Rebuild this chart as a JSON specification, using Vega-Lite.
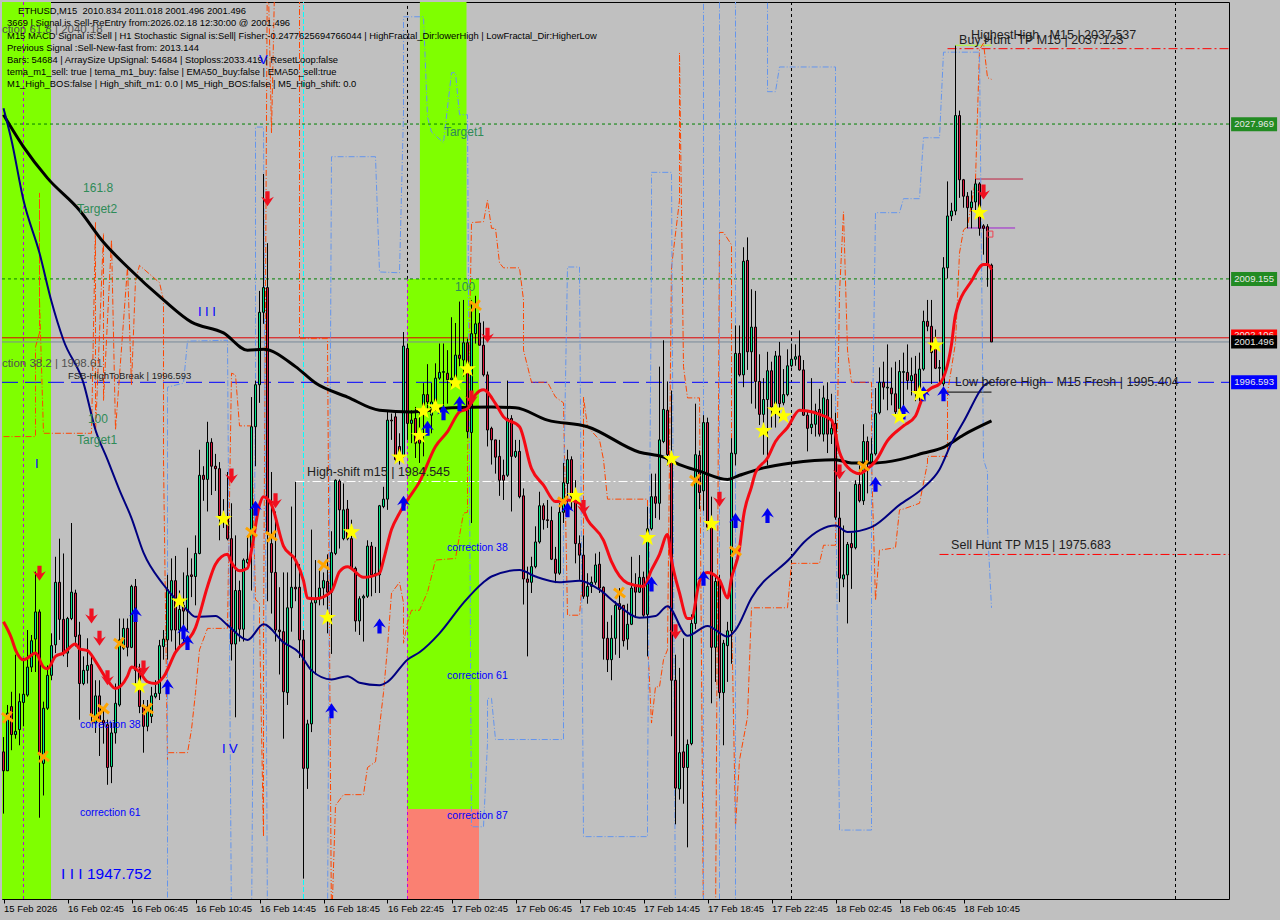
{"$schema":"https://vega.github.io/schema/vega-lite/v6.json","autosize":{"type":"none"},"padding":{"left":2,"top":2,"right":51,"bottom":21},"width":1227,"height":897,"background":"#C0C0C0","view":{"fill":"#C0C0C0","stroke":"#000000","strokeWidth":1},"config":{"text":{"font":"Liberation Sans"}},
"datasets":{
"candles":[
{"b":0,"o":1951.7,"h":1953.5,"l":1944.2,"c":1949.4},{"b":1,"o":1949.4,"h":1957.4,"l":1949.4,"c":1956.4},{"b":2,"o":1957.2,"h":1959.0,"l":1951.9,"c":1953.8},{"b":3,"o":1953.8,"h":1963.5,"l":1953.3,"c":1954.2},{"b":4,"o":1954.4,"h":1958.8,"l":1952.5,"c":1957.8},{"b":5,"o":1957.7,"h":1963.1,"l":1954.8,"c":1958.7},{"b":6,"o":1958.6,"h":1966.5,"l":1958.4,"c":1962.0},{"b":7,"o":1962.0,"h":1965.9,"l":1961.4,"c":1965.2},{"b":8,"o":1965.4,"h":1973.6,"l":1961.4,"c":1968.7},{"b":9,"o":1968.7,"h":1969.0,"l":1943.7,"c":1951.4},
{"b":10,"o":1950.3,"h":1957.8,"l":1946.4,"c":1957.0},{"b":11,"o":1957.0,"h":1962.2,"l":1956.8,"c":1961.0},{"b":12,"o":1961.0,"h":1966.1,"l":1960.4,"c":1964.6},{"b":13,"o":1964.7,"h":1975.4,"l":1963.7,"c":1972.3},{"b":14,"o":1972.3,"h":1977.6,"l":1965.3,"c":1967.8},{"b":15,"o":1967.8,"h":1975.8,"l":1963.3,"c":1963.7},{"b":16,"o":1963.7,"h":1968.1,"l":1962.0,"c":1967.9},{"b":17,"o":1967.9,"h":1979.5,"l":1967.7,"c":1971.1},{"b":18,"o":1971.0,"h":1971.4,"l":1964.5,"c":1965.7},{"b":19,"o":1965.9,"h":1967.5,"l":1955.6,"c":1960.0},
{"b":20,"o":1960.0,"h":1963.3,"l":1959.8,"c":1961.6},{"b":21,"o":1961.6,"h":1965.5,"l":1960.0,"c":1962.2},{"b":22,"o":1962.3,"h":1963.7,"l":1955.2,"c":1956.2},{"b":23,"o":1955.2,"h":1960.4,"l":1954.0,"c":1958.5},{"b":24,"o":1958.5,"h":1960.4,"l":1951.2,"c":1955.5},{"b":25,"o":1955.5,"h":1956.8,"l":1952.7,"c":1955.2},{"b":26,"o":1955.0,"h":1955.6,"l":1947.7,"c":1949.8},{"b":27,"o":1949.9,"h":1955.2,"l":1947.9,"c":1954.0},{"b":28,"o":1954.0,"h":1960.0,"l":1952.7,"c":1957.6},{"b":29,"o":1957.4,"h":1967.9,"l":1957.2,"c":1965.3},
{"b":30,"o":1964.3,"h":1967.9,"l":1964.1,"c":1966.7},{"b":31,"o":1966.7,"h":1967.9,"l":1963.3,"c":1964.4},{"b":32,"o":1964.4,"h":1972.0,"l":1964.3,"c":1971.8},{"b":33,"o":1971.8,"h":1972.7,"l":1960.0,"c":1961.6},{"b":34,"o":1961.6,"h":1962.4,"l":1956.4,"c":1957.2},{"b":35,"o":1957.2,"h":1958.0,"l":1951.6,"c":1954.8},{"b":36,"o":1954.8,"h":1958.0,"l":1954.2,"c":1957.2},{"b":37,"o":1956.0,"h":1959.6,"l":1955.2,"c":1958.5},{"b":38,"o":1958.4,"h":1960.4,"l":1958.2,"c":1958.8},{"b":39,"o":1958.8,"h":1965.3,"l":1958.0,"c":1964.6},
{"b":40,"o":1964.5,"h":1966.5,"l":1962.9,"c":1965.4},{"b":41,"o":1965.3,"h":1973.2,"l":1962.9,"c":1971.4},{"b":42,"o":1966.5,"h":1975.2,"l":1965.1,"c":1972.5},{"b":43,"o":1972.5,"h":1975.5,"l":1963.8,"c":1966.5},{"b":44,"o":1966.5,"h":1971.3,"l":1964.3,"c":1969.0},{"b":45,"o":1969.5,"h":1973.5,"l":1965.1,"c":1968.8},{"b":46,"o":1968.8,"h":1976.5,"l":1966.5,"c":1973.1},{"b":47,"o":1973.2,"h":1975.2,"l":1970.5,"c":1973.0},{"b":48,"o":1973.0,"h":1978.0,"l":1969.5,"c":1975.8},{"b":49,"o":1975.8,"h":1988.4,"l":1975.7,"c":1985.3},
{"b":50,"o":1985.3,"h":1986.4,"l":1982.2,"c":1984.8},{"b":51,"o":1984.8,"h":1991.8,"l":1980.9,"c":1989.3},{"b":52,"o":1989.3,"h":1989.8,"l":1982.9,"c":1986.4},{"b":53,"o":1986.4,"h":1987.9,"l":1983.4,"c":1986.1},{"b":54,"o":1986.1,"h":1986.9,"l":1977.4,"c":1980.4},{"b":55,"o":1980.4,"h":1982.4,"l":1978.9,"c":1980.2},{"b":56,"o":1980.2,"h":1985.7,"l":1977.4,"c":1977.6},{"b":57,"o":1977.6,"h":1981.9,"l":1962.8,"c":1964.8},{"b":58,"o":1964.8,"h":1978.0,"l":1955.9,"c":1971.3},{"b":59,"o":1971.3,"h":1972.5,"l":1965.1,"c":1966.6},
{"b":60,"o":1966.6,"h":1975.2,"l":1965.1,"c":1975.0},{"b":61,"o":1974.7,"h":1978.0,"l":1974.5,"c":1975.1},{"b":62,"o":1976.5,"h":1994.8,"l":1971.3,"c":1991.2},{"b":63,"o":1991.2,"h":1996.8,"l":1986.4,"c":1996.3},{"b":64,"o":1996.3,"h":2007.7,"l":1994.1,"c":2005.1},{"b":65,"o":2005.1,"h":2021.9,"l":2003.7,"c":2008.1},{"b":66,"o":2008.1,"h":2013.5,"l":1970.0,"c":1978.4},{"b":67,"o":1977.0,"h":1985.7,"l":1968.5,"c":1973.5},{"b":68,"o":1973.5,"h":1980.9,"l":1965.1,"c":1966.5},{"b":69,"o":1966.5,"h":1971.7,"l":1961.1,"c":1966.3},
{"b":70,"o":1966.3,"h":1973.5,"l":1953.3,"c":1959.0},{"b":71,"o":1958.9,"h":1973.5,"l":1957.4,"c":1969.2},{"b":72,"o":1969.2,"h":1981.5,"l":1966.3,"c":1971.7},{"b":73,"o":1971.7,"h":1984.5,"l":1970.0,"c":1971.5},{"b":74,"o":1971.7,"h":1974.5,"l":1963.1,"c":1965.3},{"b":75,"o":1965.3,"h":1966.5,"l":1936.3,"c":1949.7},{"b":76,"o":1949.7,"h":1955.6,"l":1947.2,"c":1955.1},{"b":77,"o":1955.1,"h":1978.7,"l":1954.1,"c":1969.8},{"b":78,"o":1969.8,"h":1975.0,"l":1961.1,"c":1970.3},{"b":79,"o":1970.3,"h":1974.0,"l":1969.5,"c":1971.6},
{"b":80,"o":1971.6,"h":1973.5,"l":1969.5,"c":1972.5},{"b":81,"o":1972.4,"h":1975.7,"l":1966.1,"c":1971.1},{"b":82,"o":1971.1,"h":1978.5,"l":1963.6,"c":1975.9},{"b":83,"o":1975.8,"h":1984.8,"l":1975.6,"c":1984.7},{"b":84,"o":1984.6,"h":1984.8,"l":1976.4,"c":1981.1},{"b":85,"o":1977.6,"h":1984.3,"l":1977.4,"c":1981.1},{"b":86,"o":1981.2,"h":1982.3,"l":1977.4,"c":1977.6},{"b":87,"o":1977.6,"h":1979.9,"l":1973.8,"c":1974.0},{"b":88,"o":1974.0,"h":1974.2,"l":1966.3,"c":1967.6},{"b":89,"o":1967.6,"h":1970.6,"l":1965.9,"c":1970.3},
{"b":90,"o":1970.4,"h":1970.8,"l":1965.1,"c":1970.6},{"b":91,"o":1970.6,"h":1977.4,"l":1970.4,"c":1976.7},{"b":92,"o":1976.7,"h":1977.2,"l":1970.6,"c":1973.2},{"b":93,"o":1973.4,"h":1976.6,"l":1971.0,"c":1973.1},{"b":94,"o":1973.2,"h":1981.7,"l":1971.0,"c":1981.6},{"b":95,"o":1981.5,"h":1983.9,"l":1981.3,"c":1982.4},{"b":96,"o":1982.4,"h":1993.0,"l":1981.1,"c":1992.0},{"b":97,"o":1992.0,"h":1992.8,"l":1989.6,"c":1991.9},{"b":98,"o":1992.4,"h":1993.0,"l":1986.8,"c":1987.2},{"b":99,"o":1988.8,"h":1990.4,"l":1986.6,"c":1987.6},
{"b":100,"o":1987.6,"h":2002.7,"l":1987.4,"c":2001.0},{"b":101,"o":2000.7,"h":2001.3,"l":1989.6,"c":1991.6},{"b":102,"o":1991.6,"h":1993.2,"l":1989.2,"c":1992.0},{"b":103,"o":1992.2,"h":1993.6,"l":1987.4,"c":1989.2},{"b":104,"o":1990.0,"h":1993.2,"l":1986.8,"c":1989.2},{"b":105,"o":1993.2,"h":1996.5,"l":1987.6,"c":1995.1},{"b":106,"o":1995.1,"h":1998.8,"l":1993.2,"c":1994.2},{"b":107,"o":1992.6,"h":1996.5,"l":1990.4,"c":1994.2},{"b":108,"o":1993.2,"h":1998.9,"l":1993.2,"c":1997.1},{"b":109,"o":1997.1,"h":2001.3,"l":1996.9,"c":1997.8},
{"b":110,"o":1997.8,"h":2001.3,"l":1993.6,"c":1997.9},{"b":111,"o":1997.7,"h":2000.5,"l":1994.0,"c":1996.9},{"b":112,"o":1996.9,"h":2004.5,"l":1996.1,"c":1997.1},{"b":113,"o":1996.9,"h":2003.8,"l":1996.1,"c":1999.9},{"b":114,"o":1999.9,"h":2006.4,"l":1998.5,"c":1999.5},{"b":115,"o":1999.3,"h":2006.6,"l":1997.3,"c":2001.4},{"b":116,"o":2001.4,"h":2001.9,"l":1989.8,"c":1990.6},{"b":117,"o":1990.5,"h":2006.6,"l":1979.5,"c":2002.5},{"b":118,"o":2002.5,"h":2007.1,"l":2001.3,"c":2003.7},{"b":119,"o":2003.8,"h":2005.0,"l":2001.1,"c":2001.1},
{"b":120,"o":2001.1,"h":2004.0,"l":1997.3,"c":1997.5},{"b":121,"o":1997.5,"h":1997.9,"l":1988.8,"c":1990.8},{"b":122,"o":1991.0,"h":1991.2,"l":1986.6,"c":1989.6},{"b":123,"o":1989.6,"h":1989.6,"l":1985.5,"c":1987.5},{"b":124,"o":1987.6,"h":1989.6,"l":1982.8,"c":1984.7},{"b":125,"o":1985.3,"h":1987.2,"l":1982.3,"c":1984.7},{"b":126,"o":1985.3,"h":1996.8,"l":1985.1,"c":1992.2},{"b":127,"o":1992.2,"h":1992.6,"l":1980.9,"c":1987.6},{"b":128,"o":1987.6,"h":1989.6,"l":1987.4,"c":1988.2},{"b":129,"o":1988.2,"h":1989.6,"l":1982.5,"c":1982.7},
{"b":130,"o":1982.8,"h":1983.7,"l":1969.6,"c":1972.7},{"b":131,"o":1972.7,"h":1974.2,"l":1963.3,"c":1972.3},{"b":132,"o":1972.3,"h":1975.4,"l":1971.0,"c":1974.2},{"b":133,"o":1974.2,"h":1979.1,"l":1974.0,"c":1977.2},{"b":134,"o":1977.2,"h":1983.3,"l":1977.0,"c":1981.6},{"b":135,"o":1981.6,"h":1981.9,"l":1978.7,"c":1979.9},{"b":136,"o":1979.9,"h":1982.3,"l":1978.9,"c":1979.8},{"b":137,"o":1979.8,"h":1981.5,"l":1975.0,"c":1975.1},{"b":138,"o":1975.1,"h":1976.6,"l":1972.2,"c":1973.4},{"b":139,"o":1973.4,"h":1981.9,"l":1973.2,"c":1980.8},
{"b":140,"o":1980.8,"h":1986.8,"l":1979.5,"c":1984.4},{"b":141,"o":1984.3,"h":1988.4,"l":1980.7,"c":1987.2},{"b":142,"o":1987.2,"h":1987.6,"l":1981.1,"c":1982.7},{"b":143,"o":1982.7,"h":1984.7,"l":1974.6,"c":1977.0},{"b":144,"o":1977.0,"h":1978.0,"l":1972.6,"c":1975.6},{"b":145,"o":1975.6,"h":1978.0,"l":1970.3,"c":1970.6},{"b":146,"o":1970.6,"h":1973.4,"l":1969.7,"c":1971.8},{"b":147,"o":1971.8,"h":1973.0,"l":1971.0,"c":1972.3},{"b":148,"o":1972.3,"h":1975.8,"l":1972.0,"c":1974.4},{"b":149,"o":1974.5,"h":1976.0,"l":1971.0,"c":1971.6},
{"b":150,"o":1971.7,"h":1971.8,"l":1962.9,"c":1965.5},{"b":151,"o":1965.5,"h":1967.5,"l":1961.4,"c":1962.9},{"b":152,"o":1962.9,"h":1968.3,"l":1960.4,"c":1965.5},{"b":153,"o":1965.5,"h":1970.0,"l":1963.5,"c":1969.5},{"b":154,"o":1969.7,"h":1971.6,"l":1963.1,"c":1969.0},{"b":155,"o":1969.5,"h":1969.5,"l":1964.5,"c":1965.2},{"b":156,"o":1965.4,"h":1969.7,"l":1964.1,"c":1967.2},{"b":157,"o":1967.2,"h":1975.4,"l":1967.1,"c":1971.6},{"b":158,"o":1971.8,"h":1973.4,"l":1968.1,"c":1971.1},{"b":159,"o":1971.1,"h":1975.6,"l":1971.0,"c":1972.9},
{"b":160,"o":1972.9,"h":1973.6,"l":1968.1,"c":1968.3},{"b":161,"o":1968.4,"h":1981.5,"l":1963.3,"c":1978.8},{"b":162,"o":1978.8,"h":1985.5,"l":1978.6,"c":1982.7},{"b":163,"o":1982.7,"h":1985.5,"l":1980.1,"c":1981.9},{"b":164,"o":1981.9,"h":1998.5,"l":1979.9,"c":1989.6},{"b":165,"o":1989.4,"h":2001.7,"l":1989.2,"c":1993.3},{"b":166,"o":1993.2,"h":1996.7,"l":1986.5,"c":1987.8},{"b":167,"o":1987.4,"h":1995.6,"l":1953.6,"c":1960.4},{"b":168,"o":1960.4,"h":1963.5,"l":1942.9,"c":1947.3},{"b":169,"o":1947.2,"h":1961.9,"l":1945.9,"c":1951.6},
{"b":170,"o":1951.7,"h":1965.5,"l":1945.4,"c":1949.8},{"b":171,"o":1949.8,"h":1953.2,"l":1940.1,"c":1952.6},{"b":172,"o":1952.7,"h":1968.4,"l":1952.5,"c":1967.3},{"b":173,"o":1967.3,"h":1994.0,"l":1966.6,"c":1987.8},{"b":174,"o":1987.7,"h":1988.3,"l":1981.2,"c":1983.2},{"b":175,"o":1983.4,"h":1992.6,"l":1981.0,"c":1991.7},{"b":176,"o":1991.7,"h":1992.3,"l":1978.6,"c":1979.0},{"b":177,"o":1979.0,"h":1982.7,"l":1957.6,"c":1964.4},{"b":178,"o":1964.4,"h":1973.0,"l":1960.2,"c":1972.4},{"b":179,"o":1972.5,"h":1973.2,"l":1958.2,"c":1958.9},
{"b":180,"o":1958.9,"h":1965.3,"l":1952.5,"c":1964.9},{"b":181,"o":1964.6,"h":1967.5,"l":1960.2,"c":1966.4},{"b":182,"o":1966.4,"h":1989.8,"l":1962.4,"c":1988.0},{"b":183,"o":1987.9,"h":2003.5,"l":1986.5,"c":2000.1},{"b":184,"o":2000.1,"h":2003.5,"l":1997.3,"c":1997.5},{"b":185,"o":1997.5,"h":2013.0,"l":1996.0,"c":2011.3},{"b":186,"o":2011.4,"h":2014.2,"l":1998.1,"c":2000.3},{"b":187,"o":2000.3,"h":2007.9,"l":1994.0,"c":2003.3},{"b":188,"o":2003.3,"h":2007.7,"l":1993.4,"c":1996.7},{"b":189,"o":1996.7,"h":2000.0,"l":1991.4,"c":1992.7},
{"b":190,"o":1992.7,"h":1997.1,"l":1987.8,"c":1994.5},{"b":191,"o":1994.5,"h":2000.3,"l":1986.5,"c":1998.0},{"b":192,"o":1998.0,"h":1999.1,"l":1991.1,"c":1993.6},{"b":193,"o":1994.0,"h":2000.4,"l":1991.1,"c":1999.8},{"b":194,"o":1999.8,"h":2001.5,"l":1992.2,"c":1994.0},{"b":195,"o":1994.1,"h":1998.2,"l":1993.8,"c":1995.1},{"b":196,"o":1995.1,"h":2000.6,"l":1994.9,"c":1998.6},{"b":197,"o":1998.6,"h":2001.3,"l":1998.4,"c":1999.4},{"b":198,"o":1999.4,"h":2001.2,"l":1998.6,"c":1999.7},{"b":199,"o":1999.8,"h":2002.9,"l":1998.0,"c":1998.1},
{"b":200,"o":1998.1,"h":1999.3,"l":1992.5,"c":1992.6},{"b":201,"o":1992.6,"h":1993.1,"l":1988.2,"c":1991.0},{"b":202,"o":1991.1,"h":1997.1,"l":1990.3,"c":1991.5},{"b":203,"o":1991.5,"h":1994.0,"l":1990.0,"c":1993.1},{"b":204,"o":1993.3,"h":1995.8,"l":1990.0,"c":1990.3},{"b":205,"o":1990.3,"h":1996.2,"l":1989.4,"c":1994.7},{"b":206,"o":1994.5,"h":1996.6,"l":1988.0,"c":1990.3},{"b":207,"o":1990.3,"h":1995.2,"l":1989.1,"c":1991.0},{"b":208,"o":1991.6,"h":1992.9,"l":1979.9,"c":1980.2},{"b":209,"o":1980.1,"h":1983.3,"l":1969.9,"c":1972.8},
{"b":210,"o":1972.7,"h":1979.2,"l":1971.7,"c":1973.2},{"b":211,"o":1973.2,"h":1977.2,"l":1967.3,"c":1976.9},{"b":212,"o":1977.0,"h":1978.3,"l":1971.5,"c":1976.5},{"b":213,"o":1976.5,"h":1984.7,"l":1976.3,"c":1984.2},{"b":214,"o":1984.2,"h":1986.5,"l":1982.0,"c":1982.2},{"b":215,"o":1982.2,"h":1991.5,"l":1981.7,"c":1989.4},{"b":216,"o":1989.4,"h":1990.0,"l":1983.1,"c":1986.8},{"b":217,"o":1986.8,"h":1989.8,"l":1986.5,"c":1987.9},{"b":218,"o":1987.9,"h":1995.9,"l":1987.7,"c":1992.8},{"b":219,"o":1992.9,"h":1998.4,"l":1992.7,"c":1996.6},
{"b":220,"o":1996.6,"h":1999.1,"l":1994.5,"c":1996.0},{"b":221,"o":1995.9,"h":2001.2,"l":1993.2,"c":1996.0},{"b":222,"o":1995.9,"h":1998.4,"l":1993.8,"c":1995.2},{"b":223,"o":1995.2,"h":1999.1,"l":1992.5,"c":1993.0},{"b":224,"o":1993.4,"h":1999.3,"l":1992.9,"c":1997.9},{"b":225,"o":1997.8,"h":2000.2,"l":1993.2,"c":1997.9},{"b":226,"o":1997.8,"h":2001.2,"l":1995.7,"c":1996.8},{"b":227,"o":1996.8,"h":1999.6,"l":1995.0,"c":1997.4},{"b":228,"o":1997.6,"h":1999.8,"l":1994.3,"c":1995.5},{"b":229,"o":1995.5,"h":2000.2,"l":1994.3,"c":1998.2},
{"b":230,"o":1998.2,"h":2005.3,"l":1998.0,"c":2004.0},{"b":231,"o":2004.0,"h":2006.6,"l":2002.8,"c":2003.4},{"b":232,"o":2003.4,"h":2006.6,"l":1996.4,"c":2000.2},{"b":233,"o":2000.7,"h":2003.0,"l":1998.2,"c":1998.3},{"b":234,"o":1998.3,"h":1999.3,"l":1996.4,"c":1998.4},{"b":235,"o":1996.4,"h":2011.8,"l":1996.1,"c":2010.5},{"b":236,"o":2010.5,"h":2021.0,"l":2009.2,"c":2016.8},{"b":237,"o":2016.8,"h":2018.4,"l":2016.2,"c":2017.4},{"b":238,"o":2017.4,"h":2037.5,"l":2016.9,"c":2029.0},{"b":239,"o":2029.0,"h":2029.6,"l":2019.0,"c":2021.2},
{"b":240,"o":2021.2,"h":2021.3,"l":2017.8,"c":2019.2},{"b":241,"o":2019.2,"h":2019.7,"l":2015.3,"c":2017.8},{"b":242,"o":2017.8,"h":2019.9,"l":2015.3,"c":2018.5},{"b":243,"o":2018.5,"h":2021.3,"l":2017.4,"c":2020.7},{"b":244,"o":2020.7,"h":2020.9,"l":2014.4,"c":2015.3},{"b":245,"o":2015.6,"h":2015.8,"l":2012.1,"c":2015.3},{"b":246,"o":2015.5,"h":2015.8,"l":2008.2,"c":2010.8},{"b":247,"o":2010.834,"h":2011.018,"l":2001.496,"c":2001.496}],
"red":[{"b":0,"p":1967.5},{"b":2,"p":1965.5},{"b":3,"p":1964.1},{"b":5,"p":1962.9},{"b":6,"p":1963.1},{"b":8,"p":1963.7},{"b":10,"p":1962.0},{"b":11,"p":1961.8},{"b":13,"p":1963.3},{"b":15,"p":1963.7},{"b":18,"p":1964.8},{"b":19,"p":1964.2},{"b":21,"p":1964.0},{"b":23,"p":1962.7},{"b":26,"p":1960.4},{"b":28,"p":1959.4},{"b":31,"p":1960.9},{"b":32,"p":1962.0},{"b":34,"p":1961.4},{"b":36,"p":1960.2},{"b":38,"p":1960.0},{"b":40,"p":1960.8},{"b":43,"p":1963.8},{"b":48,"p":1966.8},{"b":51,"p":1971.8},{"b":53,"p":1974.5},{"b":56,"p":1975.7},{"b":57,"p":1974.7},{"b":59,"p":1973.7},{"b":61,"p":1974.0},{"b":62,"p":1976.2},{"b":64,"p":1981.7},{"b":65,"p":1982.7},{"b":67,"p":1981.7},{"b":70,"p":1976.7},{"b":73,"p":1975.0},{"b":75,"p":1972.5},{"b":76,"p":1970.4},{"b":78,"p":1970.3},{"b":82,"p":1971.2},{"b":84,"p":1973.6},{"b":86,"p":1974.2},{"b":90,"p":1972.9},{"b":94,"p":1973.4},{"b":95,"p":1975.0},{"b":97,"p":1978.7},{"b":99,"p":1980.7},{"b":101,"p":1982.3},{"b":104,"p":1984.5},{"b":108,"p":1988.8},{"b":111,"p":1990.6},{"b":114,"p":1993.0},{"b":116,"p":1993.4},{"b":118,"p":1995.1},{"b":120,"p":1995.7},{"b":123,"p":1994.0},{"b":125,"p":1992.4},{"b":129,"p":1991.2},{"b":132,"p":1986.1},{"b":135,"p":1984.1},{"b":138,"p":1982.1},{"b":141,"p":1982.3},{"b":144,"p":1981.9},{"b":146,"p":1979.9},{"b":150,"p":1977.4},{"b":152,"p":1974.8},{"b":156,"p":1972.2},{"b":160,"p":1971.8},{"b":162,"p":1973.8},{"b":164,"p":1975.7},{"b":166,"p":1978.1},{"b":167,"p":1975.0},{"b":169,"p":1971.0},{"b":171,"p":1967.9},{"b":172,"p":1967.9},{"b":174,"p":1972.4},{"b":176,"p":1973.5},{"b":179,"p":1972.6},{"b":181,"p":1970.4},{"b":182,"p":1972.8},{"b":184,"p":1976.4},{"b":185,"p":1980.3},{"b":187,"p":1983.9},{"b":188,"p":1985.6},{"b":191,"p":1987.4},{"b":193,"p":1989.4},{"b":196,"p":1991.1},{"b":199,"p":1993.2},{"b":201,"p":1993.1},{"b":204,"p":1992.7},{"b":207,"p":1992.0},{"b":209,"p":1988.1},{"b":211,"p":1986.3},{"b":214,"p":1985.5},{"b":216,"p":1986.1},{"b":218,"p":1987.0},{"b":221,"p":1989.5},{"b":225,"p":1991.3},{"b":228,"p":1992.5},{"b":230,"p":1995.0},{"b":232,"p":1995.9},{"b":234,"p":1996.4},{"b":237,"p":2001.2},{"b":238,"p":2004.8},{"b":242,"p":2008.9},{"b":245,"p":2010.9},{"b":246,"p":2010.9},{"b":247,"p":2010.3}],
"navy":[{"b":0,"p":2029.9},{"b":2,"p":2026.0},{"b":5,"p":2018.7},{"b":9,"p":2012.3},{"b":12,"p":2006.4},{"b":15,"p":2001.7},{"b":20,"p":1996.5},{"b":23,"p":1990.8},{"b":26,"p":1987.2},{"b":29,"p":1983.5},{"b":32,"p":1980.1},{"b":35,"p":1975.9},{"b":40,"p":1972.0},{"b":46,"p":1968.9},{"b":48,"p":1968.1},{"b":53,"p":1968.2},{"b":56,"p":1967.1},{"b":61,"p":1965.3},{"b":65,"p":1967.2},{"b":70,"p":1965.0},{"b":74,"p":1963.7},{"b":77,"p":1961.6},{"b":82,"p":1960.5},{"b":86,"p":1960.9},{"b":89,"p":1960.1},{"b":94,"p":1959.8},{"b":96,"p":1960.2},{"b":101,"p":1962.9},{"b":104,"p":1963.8},{"b":109,"p":1966.1},{"b":115,"p":1969.8},{"b":120,"p":1972.3},{"b":122,"p":1973.0},{"b":129,"p":1973.8},{"b":133,"p":1973.0},{"b":139,"p":1972.3},{"b":144,"p":1972.5},{"b":149,"p":1971.4},{"b":153,"p":1969.8},{"b":159,"p":1968.0},{"b":163,"p":1968.2},{"b":166,"p":1969.4},{"b":171,"p":1965.8},{"b":176,"p":1967.0},{"b":181,"p":1965.7},{"b":183,"p":1966.5},{"b":187,"p":1970.4},{"b":197,"p":1975.4},{"b":200,"p":1977.1},{"b":208,"p":1979.2},{"b":211,"p":1978.4},{"b":217,"p":1979.0},{"b":224,"p":1981.7},{"b":230,"p":1983.8},{"b":234,"p":1986.0},{"b":237,"p":1989.2},{"b":240,"p":1991.8},{"b":246,"p":1996.5},{"b":247,"p":1996.6}],
"black":[{"b":0,"p":2029.1},{"b":5,"p":2025.2},{"b":11,"p":2021.4},{"b":19,"p":2017.5},{"b":25,"p":2013.6},{"b":31,"p":2010.6},{"b":40,"p":2006.6},{"b":47,"p":2003.9},{"b":55,"p":2002.6},{"b":61,"p":2000.5},{"b":65,"p":2000.6},{"b":73,"p":1998.5},{"b":78,"p":1996.5},{"b":86,"p":1994.8},{"b":94,"p":1993.2},{"b":102,"p":1993.0},{"b":112,"p":1993.5},{"b":122,"p":1993.6},{"b":128,"p":1993.5},{"b":136,"p":1992.0},{"b":146,"p":1991.2},{"b":159,"p":1988.1},{"b":165,"p":1987.5},{"b":169,"p":1986.6},{"b":174,"p":1985.8},{"b":181,"p":1984.8},{"b":184,"p":1985.3},{"b":190,"p":1986.2},{"b":197,"p":1986.8},{"b":208,"p":1987.2},{"b":212,"p":1986.8},{"b":218,"p":1986.8},{"b":224,"p":1987.2},{"b":230,"p":1988.0},{"b":235,"p":1988.7},{"b":240,"p":1990.2},{"b":247,"p":1991.9}],
"blueDash":[{"b":41,"p":1930},{"b":41,"p":1996.0},{"b":45,"p":1996.5},{"b":46,"p":2001.6},{"b":56,"p":2001.7},{"b":57,"p":1930},{"b":62,"p":1930},{"b":63,"p":1996.5},{"b":63,"p":2027.6},{"b":65,"p":2027.6},{"b":66,"p":1930},{"b":81,"p":1930},{"b":82,"p":2024.0},{"b":93,"p":2024.0},{"b":94,"p":2010.0},{"b":99,"p":2009.9},{"b":100,"p":2029.3},{"b":100,"p":2041.0},{"b":105,"p":2041.0},{"b":106,"p":2028.8},{"b":107,"p":2027.0},{"b":110,"p":2025.7},{"b":112,"p":2034.2},{"b":113,"p":2034.2},{"b":114,"p":2029.1},{"b":116,"p":2029.1},{"b":117,"p":1942.6},{"b":120,"p":1942.6},{"b":121,"p":1952.8},{"b":121,"p":1958.2},{"b":122,"p":1958.2},{"b":123,"p":1953.2},{"b":140,"p":1953.2},{"b":140,"p":1983.1},{"b":141,"p":2010.6},{"b":144,"p":2010.6},{"b":145,"p":1941.4},{"b":161,"p":1941.4},{"b":161,"p":1946.7},{"b":162,"p":2011.8},{"b":162,"p":2022.1},{"b":167,"p":2022.1},{"b":168,"p":1930},{"b":175,"p":1930},{"b":175,"p":2050},{"b":179,"p":2050},{"b":179,"p":1930},{"b":183,"p":1930},{"b":183,"p":2050},{"b":191,"p":2050},{"b":191,"p":2031.9},{"b":193,"p":2031.9},{"b":194,"p":2034.9},{"b":208,"p":2034.9},{"b":208,"p":1987.2},{"b":209,"p":1942.2},{"b":217,"p":1942.2},{"b":217,"p":1983.1},{"b":218,"p":2017.2},{"b":224,"p":2017.2},{"b":225,"p":2018.9},{"b":229,"p":2018.9},{"b":230,"p":2026.3},{"b":234,"p":2026.3},{"b":235,"p":2036.7},{"b":244,"p":2036.7},{"b":245,"p":1987.2},{"b":246,"p":1985.7},{"b":246,"p":1979.0},{"b":247,"p":1969.2}],
"orangeDash":[{"b":0,"p":1990.0},{"b":8,"p":1990.0},{"b":8,"p":2000.9},{"b":9,"p":2002.6},{"b":9,"p":2019.6},{"b":9,"p":2006.6},{"b":10,"p":1990.4},{"b":22,"p":1990.4},{"b":23,"p":2016.0},{"b":23,"p":1990.4},{"b":25,"p":2014.7},{"b":25,"p":1994.4},{"b":27,"p":2013.9},{"b":28,"p":1990.8},{"b":31,"p":2010.6},{"b":32,"p":1996.3},{"b":33,"p":2009.0},{"b":34,"p":2010.8},{"b":39,"p":2008.7},{"b":40,"p":2006.6},{"b":40,"p":1987.2},{"b":41,"p":1950.7},{"b":41,"p":1951.6},{"b":46,"p":1951.6},{"b":47,"p":1954.4},{"b":48,"p":1958.9},{"b":49,"p":1964.1},{"b":51,"p":1966.7},{"b":56,"p":1966.7},{"b":57,"p":1997.7},{"b":58,"p":1997.5},{"b":59,"p":1991.3},{"b":62,"p":1991.3},{"b":63,"p":1970.2},{"b":64,"p":1969.8},{"b":64,"p":1967.7},{"b":65,"p":1941.4},{"b":65,"p":1965.3},{"b":66,"p":2050},{"b":67,"p":2026.9},{"b":68,"p":2050},{"b":74,"p":2050},{"b":74,"p":2001.9},{"b":75,"p":2001.9},{"b":81,"p":2001.9},{"b":82,"p":1930},{"b":83,"p":1945.2},{"b":85,"p":1946.5},{"b":90,"p":1946.5},{"b":91,"p":1949.8},{"b":93,"p":1950.5},{"b":94,"p":1954.7},{"b":95,"p":1958.9},{"b":96,"p":1964.4},{"b":97,"p":1971.0},{"b":99,"p":1972.3},{"b":100,"p":1969.8},{"b":100,"p":1964.9},{"b":101,"p":1967.4},{"b":102,"p":1968.9},{"b":104,"p":1968.9},{"b":106,"p":1971.1},{"b":108,"p":1975.0},{"b":113,"p":1975.2},{"b":115,"p":1980.7},{"b":116,"p":1980.8},{"b":116,"p":1987.2},{"b":117,"p":2016.0},{"b":120,"p":2016.1},{"b":121,"p":2018.7},{"b":122,"p":2015.3},{"b":123,"p":2015.3},{"b":124,"p":2011.1},{"b":125,"p":2010.5},{"b":129,"p":2010.5},{"b":130,"p":2006.6},{"b":130,"p":2000.5},{"b":132,"p":1996.6},{"b":136,"p":1996.6},{"b":138,"p":1994.8},{"b":140,"p":1994.1},{"b":141,"p":1968.3},{"b":144,"p":1968.3},{"b":145,"p":1974.2},{"b":145,"p":1994.8},{"b":146,"p":1991.2},{"b":149,"p":1989.6},{"b":150,"p":1987.2},{"b":151,"p":1982.4},{"b":161,"p":1982.4},{"b":161,"p":1965.3},{"b":162,"p":1955.2},{"b":163,"p":1959.6},{"b":164,"p":1959.6},{"b":165,"p":1962.9},{"b":166,"p":1964.1},{"b":167,"p":2010.6},{"b":169,"p":2018.7},{"b":169,"p":2036.6},{"b":170,"p":1998.5},{"b":171,"p":1994.7},{"b":174,"p":1994.7},{"b":175,"p":1930},{"b":178,"p":1930},{"b":179,"p":2014.8},{"b":180,"p":2014.8},{"b":182,"p":2013.3},{"b":182,"p":1994.4},{"b":182,"p":1969.3},{"b":183,"p":1942.6},{"b":184,"p":1950.7},{"b":186,"p":1955.9},{"b":187,"p":1969.2},{"b":196,"p":1969.2},{"b":197,"p":1974.6},{"b":204,"p":1974.6},{"b":205,"p":1976.8},{"b":208,"p":1976.8},{"b":209,"p":2007.4},{"b":210,"p":2017.3},{"b":211,"p":2000.5},{"b":212,"p":1996.6},{"b":217,"p":1996.6},{"b":217,"p":1987.2},{"b":218,"p":1970.1},{"b":219,"p":1976.2},{"b":223,"p":1976.5},{"b":224,"p":1981.1},{"b":225,"p":1981.2},{"b":229,"p":1981.9},{"b":231,"p":1986.8},{"b":231,"p":1987.6},{"b":236,"p":1987.6},{"b":236,"p":1995.3},{"b":238,"p":2001.4},{"b":239,"p":2012.3},{"b":240,"p":2015.1},{"b":241,"p":2015.5},{"b":243,"p":2021.2},{"b":244,"p":2037.0},{"b":245,"p":2037.8},{"b":246,"p":2033.6},{"b":247,"p":2033.4}],
"stars":[{"b":34,"p":1959.7},{"b":44,"p":1970.0},{"b":55,"p":1980.0},{"b":81,"p":1968.0},{"b":87,"p":1978.4},{"b":99,"p":1987.5},{"b":104,"p":1990.1},{"b":105,"p":1993.1},{"b":108,"p":1993.6},{"b":113,"p":1996.5},{"b":116,"p":1998.2},{"b":143,"p":1982.8},{"b":161,"p":1977.7},{"b":167,"p":1987.3},{"b":177,"p":1979.4},{"b":190,"p":1990.7},{"b":193,"p":1993.2},{"b":195,"p":1992.5},{"b":224,"p":1992.4},{"b":229,"p":1995.2},{"b":233,"p":2001.1},{"b":244,"p":2017.2}],
"crosses":[{"b":1,"p":1955.9},{"b":10,"p":1951.1},{"b":23,"p":1955.8},{"b":25,"p":1956.9},{"b":29,"p":1964.9},{"b":36,"p":1956.9},{"b":62,"p":1978.4},{"b":67,"p":1977.9},{"b":80,"p":1974.4},{"b":118,"p":2005.9},{"b":140,"p":1982.1},{"b":154,"p":1971.0},{"b":173,"p":1984.7},{"b":183,"p":1976.1},{"b":215,"p":1986.4}],
"downs":[{"b":9,"p":1973.4},{"b":22,"p":1968.2},{"b":24,"p":1965.5},{"b":26,"p":1960.7},{"b":35,"p":1961.9},{"b":57,"p":1985.2},{"b":66,"p":2018.9},{"b":68,"p":1982.2},{"b":117,"p":1994.7},{"b":121,"p":2002.3},{"b":145,"p":1981.4},{"b":168,"p":1966.3},{"b":179,"p":1982.4},{"b":209,"p":1985.7},{"b":245,"p":2019.7}],
"ups":[{"b":33,"p":1968.4},{"b":41,"p":1959.6},{"b":45,"p":1966.3},{"b":46,"p":1965.0},{"b":63,"p":1981.3},{"b":82,"p":1956.7},{"b":94,"p":1967.0},{"b":100,"p":1981.9},{"b":106,"p":1991.0},{"b":110,"p":1992.9},{"b":114,"p":1994.0},{"b":141,"p":1981.1},{"b":162,"p":1972.1},{"b":175,"p":1972.8},{"b":183,"p":1979.8},{"b":191,"p":1980.4},{"b":218,"p":1984.2},{"b":225,"p":1993.0},{"b":230,"p":1995.2},{"b":235,"p":1995.2}]
},
"encoding":{"x":{"field":"b","type":"quantitative","title":null,"scale":{"domain":[-0.375,306.375],"nice":false,"zero":false,"padding":0},"axis":{"values":[0,16,32,48,64,80,96,112,128,144,160,176,192,208,224,240],"labelExpr":"['15 Feb 2026','16 Feb 02:45','16 Feb 06:45','16 Feb 10:45','16 Feb 14:45','16 Feb 18:45','16 Feb 22:45','17 Feb 02:45','17 Feb 06:45','17 Feb 10:45','17 Feb 14:45','17 Feb 18:45','17 Feb 22:45','18 Feb 02:45','18 Feb 06:45','18 Feb 10:45'][datum.value/16]","labelAlign":"left","labelBaseline":"middle","labelPadding":5,"labelFont":"Liberation Sans","labelFontSize":9.5,"labelColor":"#000000","tickColor":"#000000","tickSize":4,"domain":false,"grid":false,"labelOverlap":false,"labelFlush":false,"title":null}},
"y":{"field":"p","type":"quantitative","title":null,"scale":{"domain":[1933.826,2042.794],"nice":false,"zero":false},"axis":{"orient":"right","values":[2042.43,2038.35,2034.39,2030.43,2026.35,2022.39,2018.31,2014.35,2010.39,2006.31,2002.35,1998.27,1994.31,1990.23,1986.27,1982.31,1978.23,1974.27,1970.19,1966.23,1962.15,1958.19,1954.23,1950.15,1946.19,1942.11,1938.15,1934.19],"format":".3f","labelFont":"Liberation Sans","labelFontSize":9.5,"labelColor":"#000000","labelPadding":3,"tickColor":"#000000","tickSize":3,"domain":false,"grid":false,"labelOverlap":false,"labelFlush":false,"title":null}}},
"layer":[
{"data":{"values":[{"b":-0.375,"b2":11.875,"p":1933.826,"p2":2042.794},{"b":104.1,"b2":115.75,"p":2009.155,"p2":2042.794},{"b":100.875,"b2":118.875,"p":1944.76,"p2":2009.155}]},"mark":{"type":"rect","fill":"#7FFF00"},"encoding":{"x2":{"field":"b2"},"y2":{"field":"p2"}}},
{"data":{"values":[{"b":100.875,"b2":118.875,"p":1933.826,"p2":1944.76}]},"mark":{"type":"rect","fill":"#FA8072"},"encoding":{"x2":{"field":"b2"},"y2":{"field":"p2"}}},
{"data":{"values":[{"b":101,"p":2009.155,"p2":2042.794},{"b":197,"p":1933.826,"p2":2042.794},{"b":293,"p":1933.826,"p2":2042.794}]},"mark":{"type":"rule","color":"#000000","strokeDash":[3,3],"strokeWidth":1},"encoding":{"y2":{"field":"p2"}}},
{"data":{"values":[{"b":5,"p":1933.826,"p2":2042.794},{"b":101,"p":1933.826,"p2":2009.155}]},"mark":{"type":"rule","color":"#C000E0","strokeDash":[3,3],"strokeWidth":1},"encoding":{"y2":{"field":"p2"}}},
{"data":{"values":[{"b":75,"p":1933.826,"p2":2042.794}]},"mark":{"type":"rule","color":"#00FFFF","strokeDash":[5,2],"strokeWidth":1},"encoding":{"y2":{"field":"p2"}}},
{"data":{"values":[{"b":-0.375,"b2":306.375,"p":2027.969},{"b":-0.375,"b2":306.375,"p":2009.155}]},"mark":{"type":"rule","color":"#008000","strokeDash":[3,3],"strokeWidth":1},"encoding":{"x2":{"field":"b2"}}},
{"data":{"values":[{"b":-0.375,"b2":306.375,"p":2002.0}]},"mark":{"type":"rule","color":"#E00000","strokeWidth":1},"encoding":{"x2":{"field":"b2"}}},
{"data":{"values":[{"b":-0.375,"b2":306.375,"p":2001.496}]},"mark":{"type":"rule","color":"#778899","strokeWidth":1},"encoding":{"x2":{"field":"b2"}}},
{"data":{"values":[{"b":-0.375,"b2":306.375,"p":1996.593}]},"mark":{"type":"rule","color":"#0000FF","strokeDash":[16,7],"strokeWidth":1},"encoding":{"x2":{"field":"b2"}}},
{"data":{"values":[{"b":236,"b2":306.375,"p":2037.123},{"b":234,"b2":306.375,"p":1975.683}]},"mark":{"type":"rule","color":"#FF0000","strokeDash":[9,3,2,3],"strokeWidth":1},"encoding":{"x2":{"field":"b2"}}},
{"data":{"values":[{"b":73,"b2":232.6,"p":1984.545}]},"mark":{"type":"rule","color":"#FFFFFF","strokeDash":[9,3,2,3],"strokeWidth":1},"encoding":{"x2":{"field":"b2"}}},
{"data":{"values":[{"b":234.1,"b2":247,"p":1995.404}]},"mark":{"type":"rule","color":"#000000","strokeWidth":1},"encoding":{"x2":{"field":"b2"}}},
{"data":{"values":[{"b":237.9,"b2":247,"p":2037.537}]},"mark":{"type":"rule","color":"#ADFF2F","strokeWidth":1},"encoding":{"x2":{"field":"b2"}}},
{"data":{"values":[{"b":240.9,"b2":252.9,"p":2015.34}]},"mark":{"type":"rule","color":"#A020D0","strokeWidth":1},"encoding":{"x2":{"field":"b2"}}},
{"data":{"values":[{"b":242.9,"b2":254.9,"p":2021.29}]},"mark":{"type":"rule","color":"#C02040","strokeWidth":1},"encoding":{"x2":{"field":"b2"}}},
{"data":{"name":"orangeDash"},"mark":{"type":"line","order":false,"clip":true,"color":"#FF4500","strokeWidth":1,"strokeDash":[6,2,1,2]}},
{"data":{"name":"blueDash"},"mark":{"type":"line","order":false,"clip":true,"color":"#6495ED","strokeWidth":1,"strokeDash":[6,2,1,2]}},
{"data":{"name":"candles"},"mark":{"type":"rule","color":"#000000","strokeWidth":1},"encoding":{"y":{"field":"l","type":"quantitative","axis":null,"scale":{"domain":[1933.826,2042.794],"nice":false,"zero":false}},"y2":{"field":"h"}}},
{"data":{"name":"candles"},"mark":{"type":"bar","width":2,"stroke":"#000000","strokeWidth":1},"encoding":{"y":{"field":"o","type":"quantitative","axis":null,"scale":{"domain":[1933.826,2042.794],"nice":false,"zero":false}},"y2":{"field":"c"},"fill":{"condition":{"test":"datum.c>=datum.o","value":"#00E68A"},"value":"#DC143C"}}},
{"data":{"name":"black"},"mark":{"type":"line","interpolate":"monotone","color":"#000000","strokeWidth":3}},
{"data":{"name":"navy"},"mark":{"type":"line","interpolate":"monotone","color":"#000080","strokeWidth":2}},
{"data":{"name":"red"},"mark":{"type":"line","interpolate":"monotone","color":"#F50A14","strokeWidth":3}},
{"data":{"name":"crosses"},"mark":{"type":"point","filled":false,"opacity":1,"color":"#FFA500","strokeWidth":3,"size":196,"shape":"M-0.8,-0.6L0.8,0.6M-0.6,0.8L0.6,-0.8"}},
{"data":{"name":"ups"},"mark":{"type":"point","filled":true,"opacity":1,"color":"#0000F0","size":225,"shape":"M-0.28,1L0.28,1L0.28,-0.05L0.85,0.25L0,-1L-0.85,0.25L-0.28,-0.05Z"}},
{"data":{"name":"downs"},"mark":{"type":"point","filled":true,"opacity":1,"color":"#F01020","size":225,"shape":"M-0.28,-1L0.28,-1L0.28,0.05L0.85,-0.25L0,1L-0.85,-0.25L-0.28,0.05Z"}},
{"data":{"name":"stars"},"mark":{"type":"point","filled":true,"opacity":1,"color":"#FFFF00","size":324,"shape":"M0,-1L0.24,-0.31L0.95,-0.31L0.38,0.12L0.59,0.81L0,0.4L-0.59,0.81L-0.38,0.12L-0.95,-0.31L-0.24,-0.31Z"}},
{"data":{"values":[{"b":246.6,"p":2014.6}]},"mark":{"type":"point","shape":"square","filled":false,"opacity":1,"color":"#F04050","size":36,"strokeWidth":1}},
{"data":{"values":[{"b":3.6,"p":2041.74,"t":"ETHUSD,M15\u00a0\u00a02010.834 2011.018 2001.496 2001.496"},{"b":0.9,"p":2040.25,"t":"3669 | Signal is Sell-ReEntry from:2026.02.18 12:30:00 @ 2001.496"},{"b":0.9,"p":2038.7,"t":"M15 MACD Signal is:Sell | H1 Stochastic Signal is:Sell| Fisher:-0.2477625694766044 | HighFractal_Dir:lowerHigh | LowFractal_Dir:HigherLow"},{"b":0.9,"p":2037.25,"t":"Previous Signal :Sell-New-fast from: 2013.144"},{"b":0.9,"p":2035.79,"t":"Bars: 54684 | ArraySize UpSignal: 54684 | Stoploss:2033.419 | ResetLoop:false"},{"b":0.9,"p":2034.33,"t":"tema_m1_sell: true | tema_m1_buy: false | EMA50_buy:false | EMA50_sell:true"},{"b":0.9,"p":2032.87,"t":"M1_High_BOS:false | High_shift_m1: 0.0 | M5_High_BOS:false | M5_High_shift: 0.0"}]},"mark":{"type":"text","align":"left","baseline":"middle","fontSize":9.4,"color":"#000000"},"encoding":{"text":{"field":"t"}}},
{"data":{"values":[{"b":-0.4,"p":2039.4,"t":"ction 61.8 | 2040.18"},{"b":-0.4,"p":1998.8,"t":"ction 38.2 | 1998.61"}]},"mark":{"type":"text","align":"left","baseline":"middle","fontSize":11.5,"color":"#505050"},"encoding":{"text":{"field":"t"}}},
{"data":{"values":[{"b":236.9,"p":1976.8,"t":"Sell Hunt TP M15 | 1975.683"},{"b":241.9,"p":2038.8,"t":"HighestHigh\u00a0\u00a0\u00a0M15 | 2037.537"},{"b":238.9,"p":2038.2,"t":"Buy Hunt\u00a0\u00a0TP M15 | 2037.123"},{"b":237.9,"p":1996.6,"t":"Low before High\u00a0\u00a0\u00a0M15 Fresh | 1995.404"},{"b":75.9,"p":1985.7,"t":"High-shift m15 | 1984.545"}]},"mark":{"type":"text","align":"left","baseline":"middle","fontSize":12.5,"color":"#202020"},"encoding":{"text":{"field":"t"}}},
{"data":{"values":[{"b":16.1,"p":1997.4,"t":"FSB-HighToBreak | 1996.593"}]},"mark":{"type":"text","align":"left","baseline":"middle","fontSize":9.5,"color":"#202020"},"encoding":{"text":{"field":"t"}}},
{"data":{"values":[{"b":19.9,"p":2020.2,"t":"161.8"},{"b":18.4,"p":2017.6,"t":"Target2"},{"b":21.1,"p":1992.1,"t":"100"},{"b":18.4,"p":1989.6,"t":"Target1"},{"b":110.1,"p":2027.0,"t":"Target1"},{"b":112.9,"p":2008.2,"t":"100"}]},"mark":{"type":"text","align":"left","baseline":"middle","fontSize":12,"color":"#2E8B57"},"encoding":{"text":{"field":"t"}}},
{"data":{"values":[{"b":19.1,"p":1955.0,"t":"correction 38"},{"b":19.1,"p":1944.3,"t":"correction 61"},{"b":110.9,"p":1976.5,"t":"correction 38"},{"b":110.9,"p":1960.9,"t":"correction 61"},{"b":110.9,"p":1943.9,"t":"correction 87"}]},"mark":{"type":"text","align":"left","baseline":"middle","fontSize":10.5,"color":"#0000FF"},"encoding":{"text":{"field":"t"}}},
{"data":{"values":[{"b":14.4,"p":1936.9,"t":"I I I 1947.752"}]},"mark":{"type":"text","align":"left","baseline":"middle","fontSize":15.5,"color":"#0000FF"},"encoding":{"text":{"field":"t"}}},
{"data":{"values":[{"b":48.6,"p":2005.1,"t":"I I I"},{"b":54.6,"p":1952.0,"t":"I V"},{"b":7.9,"p":1986.7,"t":"I"},{"b":63.9,"p":2035.7,"t":"V"}]},"mark":{"type":"text","align":"left","baseline":"middle","fontSize":13,"color":"#0000FF"},"encoding":{"text":{"field":"t"}}},
{"data":{"values":[{"b":306.9,"b2":318.4,"p":2027.1,"p2":2028.8},{"b":306.9,"b2":318.4,"p":2008.3,"p2":2010.0}]},"mark":{"type":"rect","fill":"#228B22"},"encoding":{"x2":{"field":"b2"},"y2":{"field":"p2"}}},
{"data":{"values":[{"b":306.9,"b2":318.4,"p":2001.2,"p2":2003.0}]},"mark":{"type":"rect","fill":"#FF0000"},"encoding":{"x2":{"field":"b2"},"y2":{"field":"p2"}}},
{"data":{"values":[{"b":306.9,"b2":318.4,"p":1995.75,"p2":1997.45}]},"mark":{"type":"rect","fill":"#0000FF"},"encoding":{"x2":{"field":"b2"},"y2":{"field":"p2"}}},
{"data":{"values":[{"b":307.7,"p":2027.969,"t":"2027.969"},{"b":307.7,"p":2009.155,"t":"2009.155"},{"b":307.7,"p":2002.4,"t":"2002.106"},{"b":307.7,"p":1996.593,"t":"1996.593"}]},"mark":{"type":"text","align":"left","baseline":"middle","fontSize":9.5,"color":"#E8E8E8"},"encoding":{"text":{"field":"t"}}},
{"data":{"values":[{"b":306.9,"b2":318.4,"p":2000.7,"p2":2002.3}]},"mark":{"type":"rect","fill":"#000000"},"encoding":{"x2":{"field":"b2"},"y2":{"field":"p2"}}},
{"data":{"values":[{"b":307.7,"p":2001.496,"t":"2001.496"}]},"mark":{"type":"text","align":"left","baseline":"middle","fontSize":9.5,"color":"#E8E8E8"},"encoding":{"text":{"field":"t"}}}
]}
